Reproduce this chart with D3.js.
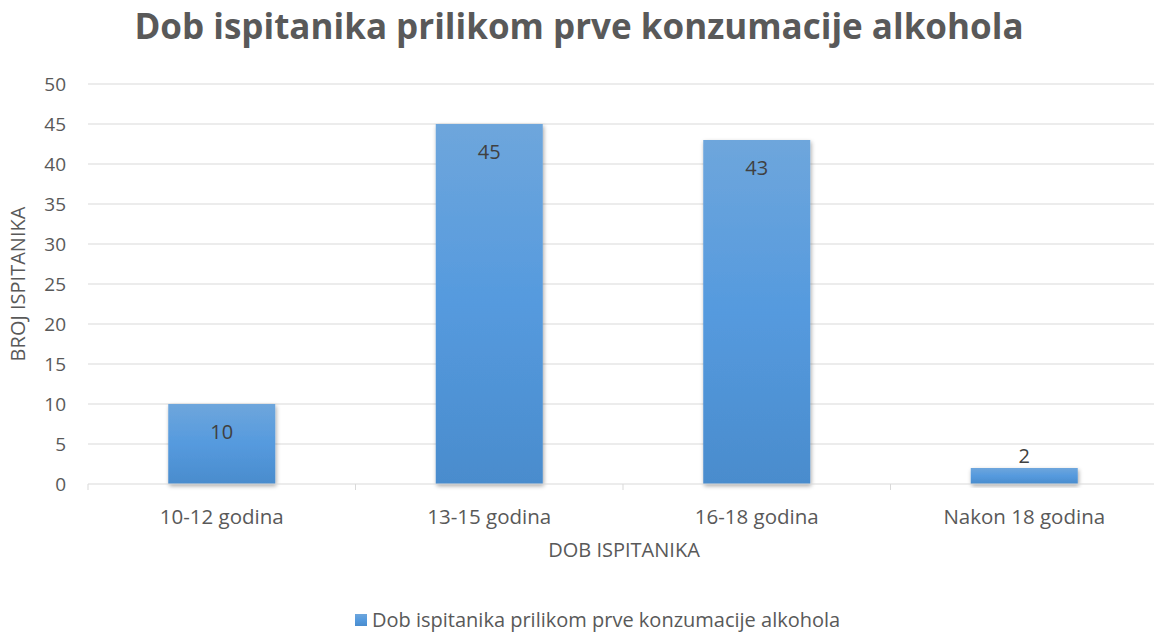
<!DOCTYPE html>
<html>
<head>
<meta charset="utf-8">
<script src="https://cdn.jsdelivr.net/npm/d3@7"></script>
<style>
  body { margin: 0; background: #fff; }
  text { font-family: "Open Sans", sans-serif; fill: #595959; }
</style>
</head>
<body>
<svg width="1154" height="632"></svg>
<script>
// chart data
var categories = ["10-12 godina", "13-15 godina", "16-18 godina", "Nakon 18 godina"];
var values = [10, 45, 43, 2];
var yTicks = [0, 5, 10, 15, 20, 25, 30, 35, 40, 45, 50];
var seriesName = "Dob ispitanika prilikom prve konzumacije alkohola";

var svg = d3.select("svg"),
    width = +svg.attr("width"),
    height = +svg.attr("height");

var margin = {left: 88, right: -4, top: 84, bottom: 148};

var x = d3.scaleBand()
    .domain(categories)
    .range([margin.left, width - margin.right])
    .paddingInner(0.6)
    .paddingOuter(0.3);

var y = d3.scaleLinear()
    .domain([0, 50])
    .range([height - margin.bottom, margin.top]);

// gradient + shadow
var defs = svg.append("defs");
var grad = defs.append("linearGradient")
    .attr("id", "barGrad")
    .attr("x1", 0).attr("y1", 0).attr("x2", 0).attr("y2", 1);
grad.append("stop").attr("offset", "0%").attr("stop-color", "#6ea6dc");
grad.append("stop").attr("offset", "50%").attr("stop-color", "#559ade");
grad.append("stop").attr("offset", "100%").attr("stop-color", "#4a8ccd");

var shadow = defs.append("filter").attr("id", "shadow")
    .attr("x", "-20%").attr("y", "-20%").attr("width", "140%").attr("height", "140%");
shadow.append("feDropShadow")
    .attr("dx", 1).attr("dy", 2).attr("stdDeviation", 2)
    .attr("flood-color", "#000").attr("flood-opacity", 0.35);

// gridlines
svg.append("g")
    .selectAll("line")
    .data(yTicks.slice(1))
    .enter().append("line")
    .attr("x1", margin.left).attr("x2", width - margin.right)
    .attr("y1", d => y(d)).attr("y2", d => y(d))
    .attr("stroke", "#d9d9d9").attr("stroke-width", 1);

// y axis labels
svg.append("g")
    .selectAll("text")
    .data(yTicks)
    .enter().append("text")
    .attr("x", 66)
    .attr("y", d => y(d))
    .attr("dy", "0.35em")
    .attr("text-anchor", "end")
    .style("font-size", "19px")
    .text(d => d);

// bars
svg.append("g")
    .selectAll("rect")
    .data(values)
    .enter().append("rect")
    .attr("x", (d, i) => x(categories[i]))
    .attr("width", x.bandwidth())
    .attr("y", d => y(d))
    .attr("height", d => y(0) - y(d))
    .attr("fill", "url(#barGrad)")
    .attr("filter", "url(#shadow)");

// x axis line and ticks
var baseY = y(0);
svg.append("line")
    .attr("x1", margin.left).attr("x2", width - margin.right)
    .attr("y1", baseY).attr("y2", baseY)
    .attr("stroke", "#d9d9d9");
var step = x.step();
var edges = d3.range(categories.length + 1).map(i => margin.left + i * step);
svg.append("g")
    .selectAll("line")
    .data(edges)
    .enter().append("line")
    .attr("x1", d => d).attr("x2", d => d)
    .attr("y1", baseY).attr("y2", baseY + 6)
    .attr("stroke", "#d9d9d9");

// value labels
svg.append("g")
    .selectAll("text")
    .data(values)
    .enter().append("text")
    .attr("x", (d, i) => x(categories[i]) + x.bandwidth() / 2)
    .attr("y", d => d < 5 ? y(d) - 5 : y(d) + 35)
    .attr("text-anchor", "middle")
    .style("font-size", "20px")
    .style("fill", "#404040")
    .text(d => d);

// category labels
svg.append("g")
    .selectAll("text")
    .data(categories)
    .enter().append("text")
    .attr("x", d => x(d) + x.bandwidth() / 2)
    .attr("y", 524)
    .attr("text-anchor", "middle")
    .style("font-size", "20.5px")
    .text(d => d);

// axis titles
svg.append("text")
    .attr("x", 624).attr("y", 557)
    .attr("text-anchor", "middle")
    .style("font-size", "20px")
    .text("DOB ISPITANIKA");

svg.append("text")
    .attr("transform", "translate(25," + y(25) + ") rotate(-90)")
    .attr("text-anchor", "middle")
    .style("font-size", "20px")
    .text("BROJ ISPITANIKA");

// title
svg.append("text")
    .attr("x", 579).attr("y", 39)
    .attr("text-anchor", "middle")
    .style("font-size", "35px")
    .style("font-weight", "bold")
    .text(seriesName);

// legend
var leg = svg.append("g").attr("transform", "translate(355,614)");
leg.append("rect")
    .attr("width", 12).attr("height", 12)
    .attr("fill", "url(#barGrad)");
leg.append("text")
    .attr("x", 17).attr("y", 6).attr("dy", "0.35em")
    .style("font-size", "20px")
    .text(seriesName);
</script>
</body>
</html>
